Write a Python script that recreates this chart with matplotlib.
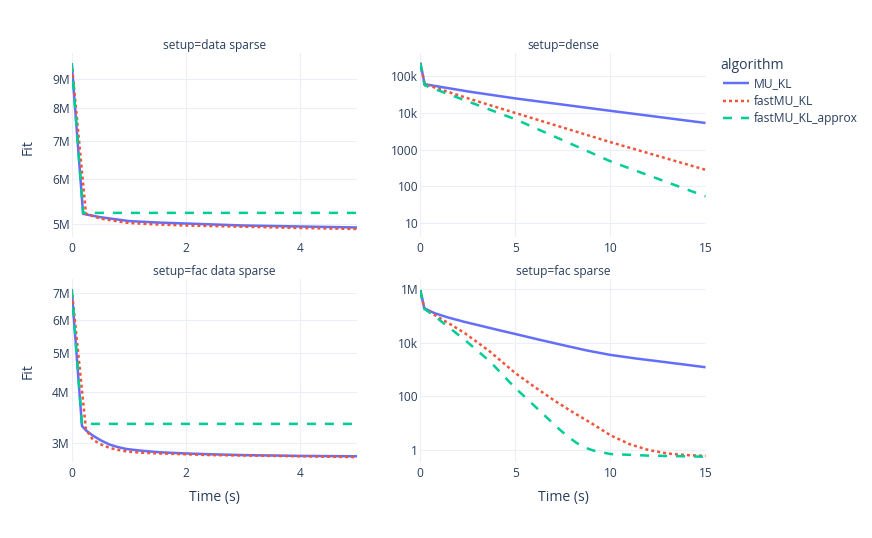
import matplotlib
matplotlib.use("Agg")
import matplotlib.pyplot as plt
from matplotlib.lines import Line2D
from matplotlib.ticker import NullLocator

# ---- data (time in s, fit values) ----
ALGOS = ["MU_KL", "fastMU_KL", "fastMU_KL_approx"]

# setup=data sparse
ds_mu_t = [0, 0.2, 0.5, 1, 1.5, 2, 3, 4, 5]
ds_mu_fit = [9.6e6, 5.22e6, 5.15e6, 5.07e6, 5.04e6, 5.02e6, 4.98e6, 4.96e6, 4.94e6]
ds_fast_t = [0, 0.25, 0.5, 1, 1.5, 2, 3, 4, 5]
ds_fast_fit = [9.6e6, 5.22e6, 5.12e6, 5.03e6, 5.0e6, 4.98e6, 4.955e6, 4.93e6, 4.91e6]
ds_approx_t = [0, 0.2, 5]
ds_approx_fit = [9.6e6, 5.24e6, 5.24e6]

# setup=dense
de_mu_t = [0, 0.23, 2.63, 5, 10, 15]
de_mu_fit = [2.24e5, 5.89e4, 3.67e4, 2.43e4, 1.12e4, 5.25e3]
de_fast_t = [0, 0.23, 2.63, 5, 10, 15]
de_fast_fit = [2.24e5, 5.89e4, 2.33e4, 9.77e3, 1.585e3, 282]
de_approx_t = [0, 0.23, 2.63, 5, 10, 15]
de_approx_fit = [2.24e5, 5.5e4, 1.905e4, 6.61e3, 479, 53.7]

# setup=fac data sparse
fds_mu_t = [0, 0.18, 0.25, 0.37, 0.5, 0.66, 0.8, 0.96, 1.2, 1.54, 2, 2.42, 3, 4, 5]
fds_mu_fit = [7.16e6, 3.30e6, 3.22e6, 3.126e6, 3.048e6, 2.972e6, 2.931e6, 2.897e6,
              2.871e6, 2.844e6, 2.825e6, 2.812e6, 2.799e6, 2.786e6, 2.780e6]
fds_fast_t = [0, 0.25, 0.37, 0.5, 0.66, 0.8, 0.96, 1.2, 1.54, 2, 2.42, 3, 4, 5]
fds_fast_fit = [7.16e6, 3.236e6, 3.055e6, 2.979e6, 2.917e6, 2.884e6, 2.858e6, 2.838e6,
                2.825e6, 2.812e6, 2.799e6, 2.793e6, 2.780e6, 2.767e6]
fds_approx_t = [0, 0.18, 5]
fds_approx_fit = [7.16e6, 3.34e6, 3.34e6]

# setup=fac sparse
fs_mu_t = [0, 0.21, 0.74, 1.45, 2.34, 3.22, 4.1, 5, 6.3, 7.66, 8.8, 10, 11.3, 12.65, 13.8, 15]
fs_mu_fit = [9.33e5, 1.95e5, 1.29e5, 8.91e4, 6.03e4, 4.27e4, 3.02e4, 2.14e4, 1.29e4,
             7.76e3, 5.13e3, 3.55e3, 2.63e3, 2.0e3, 1.58e3, 1.23e3]
fs_fast_t = [0, 0.21, 0.75, 1.5, 2.34, 3, 3.67, 4.3, 5, 6, 7, 8, 9, 10, 11, 12, 13, 14, 15]
fs_fast_fit = [9.33e5, 1.95e5, 1.10e5, 5.37e4, 2.29e4, 1.05e4, 4.68e3, 1.95e3, 741, 229,
               74.1, 26.3, 10.0, 3.55, 1.66, 1.0, 0.741, 0.646, 0.603]
fs_approx_t = [0, 0.21, 0.75, 1.5, 2.34, 3, 3.67, 4.3, 5, 5.7, 6.33, 7, 7.35, 7.8, 8.25,
               8.7, 9.1, 10, 12, 15]
fs_approx_fit = [9.33e5, 1.86e5, 1.0e5, 3.80e4, 1.29e4, 5.13e3, 2.0e3, 676, 204, 70.8,
                 26.9, 9.55, 5.62, 3.02, 1.78, 1.20, 0.955, 0.708, 0.617, 0.562]

# tick labels
ds_yticks = [5e6, 6e6, 7e6, 8e6, 9e6]
ds_ylabels = ["5M", "6M", "7M", "8M", "9M"]
de_yticks = [10, 100, 1000, 1e4, 1e5]
de_ylabels = ["10", "100", "1000", "10k", "100k"]
fds_yticks = [3e6, 4e6, 5e6, 6e6, 7e6]
fds_ylabels = ["3M", "4M", "5M", "6M", "7M"]
fs_yticks = [1, 100, 1e4, 1e6]
fs_ylabels = ["1", "100", "10k", "1M"]
left_xticks = [0, 2, 4]
right_xticks = [0, 5, 10, 15]

# ---- styling ----
W, H = 872, 538
COLORS = {"MU_KL": "#636efa", "fastMU_KL": "#EF553B", "fastMU_KL_approx": "#00cc96"}
LW_PX = 2.5
LW = LW_PX * 0.72
DASH_PX = {"MU_KL": None, "fastMU_KL": (3, 3), "fastMU_KL_approx": (9, 9)}
TXT = "#2a3f5f"
GRID = "#EBF0F8"
FS = 8.64   # 12 px
FS_T = 10.08  # 14 px

plt.rcParams["font.family"] = ["Open Sans", "DejaVu Sans"]

fig = plt.figure(figsize=(W / 100, H / 100), dpi=100)
fig.patch.set_facecolor("white")


def style_line(line, name):
    if DASH_PX[name] is not None:
        on, off = DASH_PX[name]
        line.set_dashes((on / LW_PX, off / LW_PX))


def px_axes(x0, x1, y0, y1):
    """Axes from pixel box (left, right, top, bottom)."""
    return fig.add_axes([x0 / W, 1 - y1 / H, (x1 - x0) / W, (y1 - y0) / H])


def draw_panel(ax, series, title, xmax, xticks, ylim, yticks, ylabels):
    for name, (t, fit) in zip(ALGOS, series):
        line, = ax.plot(t, fit, color=COLORS[name], lw=LW, solid_capstyle="butt",
                        dash_capstyle="butt", solid_joinstyle="round")
        style_line(line, name)
    ax.set_yscale("log")
    ax.set_xlim(0, xmax)
    ax.set_ylim(*ylim)
    ax.set_xticks(xticks)
    ax.set_xticklabels([str(v) for v in xticks])
    ax.set_yticks(yticks)
    ax.set_yticklabels(ylabels)
    ax.yaxis.set_minor_locator(NullLocator())
    ax.xaxis.set_minor_locator(NullLocator())
    ax.tick_params(axis="both", length=0, labelsize=FS, labelcolor=TXT)
    ax.tick_params(axis="y", pad=1.5)
    ax.tick_params(axis="x", pad=3.8)
    ax.grid(True, color=GRID, lw=0.75)
    ax.set_axisbelow(True)
    for s in ax.spines.values():
        s.set_visible(False)
    ax.annotate(title, xy=(0.5, 1), xycoords="axes fraction", xytext=(0, 5.3),
                textcoords="offset points", ha="center", va="center",
                fontsize=FS, color=TXT)


ax_ds = px_axes(71.7, 357, 53, 237)
ax_de = px_axes(420.3, 705.5, 53, 237)
ax_fds = px_axes(71.7, 357, 279, 462)
ax_fs = px_axes(420.3, 705.5, 279, 462)

draw_panel(ax_ds, [(ds_mu_t, ds_mu_fit), (ds_fast_t, ds_fast_fit), (ds_approx_t, ds_approx_fit)],
           "setup=data sparse", 5, left_xticks, (10 ** 6.677, 10 ** 7.0), ds_yticks, ds_ylabels)
draw_panel(ax_de, [(de_mu_t, de_mu_fit), (de_fast_t, de_fast_fit), (de_approx_t, de_approx_fit)],
           "setup=dense", 15, right_xticks, (10 ** 0.628, 10 ** 5.617), de_yticks, de_ylabels)
draw_panel(ax_fds, [(fds_mu_t, fds_mu_fit), (fds_fast_t, fds_fast_fit), (fds_approx_t, fds_approx_fit)],
           "setup=fac data sparse", 5, left_xticks, (10 ** 6.430, 10 ** 6.880), fds_yticks, fds_ylabels)
draw_panel(ax_fs, [(fs_mu_t, fs_mu_fit), (fs_fast_t, fs_fast_fit), (fs_approx_t, fs_approx_fit)],
           "setup=fac sparse", 15, right_xticks, (10 ** -0.448, 10 ** 6.384), fs_yticks, fs_ylabels)

# axis titles
fig.text(28.5 / W, 1 - 146.7 / H, "Fit", rotation=90, ha="center", va="center", fontsize=FS_T, color=TXT)
fig.text(28.5 / W, 1 - 371 / H, "Fit", rotation=90, ha="center", va="center", fontsize=FS_T, color=TXT)
fig.text(214.3 / W, 1 - 498 / H, "Time (s)", ha="center", va="center", fontsize=FS_T, color=TXT)
fig.text(563 / W, 1 - 498 / H, "Time (s)", ha="center", va="center", fontsize=FS_T, color=TXT)

# legend
fig.text(720 / W, 1 - 65.7 / H, "algorithm", ha="left", va="center", fontsize=FS_T, color=TXT)
for i, name in enumerate(ALGOS):
    y = 1 - (83.3 + i * 17.5) / H
    ln = Line2D([722.7 / W, 749.3 / W], [y, y], transform=fig.transFigure,
                color=COLORS[name], lw=LW, solid_capstyle="butt", dash_capstyle="butt")
    style_line(ln, name)
    fig.add_artist(ln)
    fig.text(754.3 / W, y, name, ha="left", va="center", fontsize=FS, color=TXT)

fig.savefig("out.png", dpi=100, facecolor="white")
